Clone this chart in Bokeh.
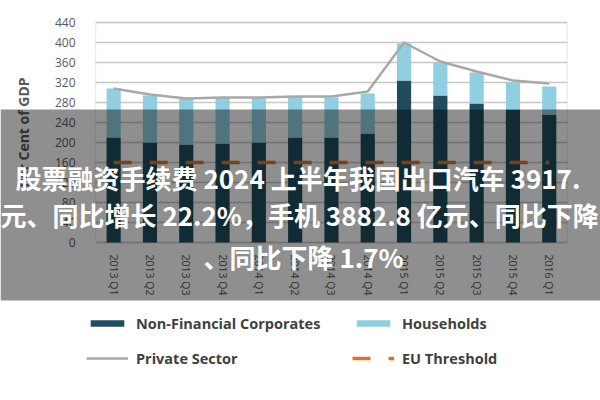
from bokeh.plotting import figure
from bokeh.models import (ColumnDataSource, Range1d, Legend, LegendItem, Label,
                          BoxAnnotation, LinearAxis, FixedTicker)
from bokeh.embed import file_html
from bokeh.resources import INLINE

quarters = ["2013 Q1", "2013 Q2", "2013 Q3", "2013 Q4", "2014 Q1", "2014 Q2", "2014 Q3",
            "2014 Q4", "2015 Q1", "2015 Q2", "2015 Q3", "2015 Q4", "2016 Q1"]
non_financial = [210, 200, 196, 198, 200, 210, 210, 218, 324, 294, 278, 266, 256]
households = [98, 94, 92, 92, 90, 82, 80, 80, 74, 66, 62, 54, 56]
private_sector = [308, 296, 288, 290, 290, 292, 292, 302, 400, 362, 342, 324, 318]
eu_threshold = [160] * 13
y_ticks = [0, 40, 80, 120, 160, 200, 240, 280, 320, 360, 400, 440]

overlay_lines = ["股票融资手续费 2024 上半年我国出口汽车 3917.",
                 "元、同比增长 22.2%，手机 3882.8 亿元、同比下降",
                 "、同比下降 1.7%"]

# layout (canvas pixels)
W, H = 600, 400
chart_left, chart_top, chart_bottom = 95, 22, 242
slot_px = 36.3
n = len(quarters)
y_top = y_ticks[-1]
px_per_unit = (chart_bottom - chart_top) / y_top

xpos = [i + 0.5 for i in range(n)]
src = ColumnDataSource(dict(x=xpos, q=quarters, nfc=non_financial, hh=households,
                            ps=private_sector, eu=eu_threshold))

x_range = Range1d(-chart_left / slot_px, (W - chart_left) / slot_px)
y_range = Range1d(-(H - chart_bottom) / px_per_unit, y_top + chart_top / px_per_unit)

p = figure(x_range=x_range, y_range=y_range, width=W, height=H,
           min_border=0, x_axis_location=None, y_axis_location=None,
           output_backend="svg", toolbar_location=None)
p.outline_line_color = None
p.grid.visible = False

grid_color = "#c8c8c8"
p.segment(x0=0, x1=n, y0=y_ticks, y1=y_ticks, line_color=grid_color, line_width=1.5)

bars = p.vbar_stack(["nfc", "hh"], x="x", width=0.39, source=src,
                    color=["#1f4d5d", "#8fcfe1"], line_color=None)
ps_line = p.line("x", "ps", source=src, line_color="#a8a8a8", line_width=2.5)
eu_line = p.line("x", "eu", source=src, line_color="#d9732b", line_width=3.5,
                 line_dash="18 18")

p.add_layout(BoxAnnotation(left=0, right=n, bottom=0, top=y_top, fill_alpha=0,
                           line_color="#c2c2c2", line_width=1.5, border_radius=4,
                           level="underlay"))

font = "Open Sans"
yax = LinearAxis(fixed_location=0, ticker=FixedTicker(ticks=y_ticks), bounds=(0, y_top))
xax = LinearAxis(fixed_location=0, ticker=FixedTicker(ticks=xpos), bounds=(0, n),
                 major_label_overrides={x: q for x, q in zip(xpos, quarters)})
for ax in (xax, yax):
    ax.axis_line_color = None
    ax.major_tick_line_color = None
    ax.minor_tick_line_color = None
    ax.major_label_text_font = font
    ax.major_label_text_color = "#595959"
yax.major_label_text_font_size = "12px"
yax.major_label_standoff = 14
yax.axis_label = "Per Cent of GDP"
yax.axis_label_text_font = font
yax.axis_label_text_font_size = "14px"
yax.axis_label_text_font_style = "bold"
yax.axis_label_text_color = "#595959"
yax.axis_label_standoff = 19
xax.major_label_orientation = "vertical"
xax.major_label_text_font_size = "10.5px"
xax.major_label_standoff = 6
p.add_layout(yax, "left")
p.add_layout(xax, "below")

legend = Legend(items=[
    LegendItem(label="Non-Financial Corporates", renderers=[bars[0]]),
    LegendItem(label="Households", renderers=[bars[1]]),
    LegendItem(label="Private Sector", renderers=[ps_line]),
    LegendItem(label="EU Threshold", renderers=[eu_line]),
], orientation="horizontal", ncols=2, location=(86, 27),
    glyph_width=42, glyph_height=8, label_standoff=8, label_width=211, label_height=30,
    spacing=5, padding=0, margin=0, border_line_color=None, background_fill_alpha=0,
    label_text_font=font, label_text_font_size="14.5px", label_text_font_style="bold",
    label_text_color="#404040")
p.add_layout(legend)

p.add_layout(BoxAnnotation(top=109, bottom=300, top_units="canvas", bottom_units="canvas",
                           fill_color="black", fill_alpha=0.44, line_color=None,
                           level="overlay"))

xs = [15, 0, 203]
ys = [177, 214, 256]
for t, x, y in zip(overlay_lines, xs, ys):
    p.add_layout(Label(x=x, y=y, x_units="canvas", y_units="canvas", text=t,
                       text_font="Noto Sans CJK SC", text_font_size="26px",
                       text_font_style="bold", text_color="white",
                       text_baseline="middle", level="overlay"))

open("out.html", "w").write(file_html(p, INLINE))
